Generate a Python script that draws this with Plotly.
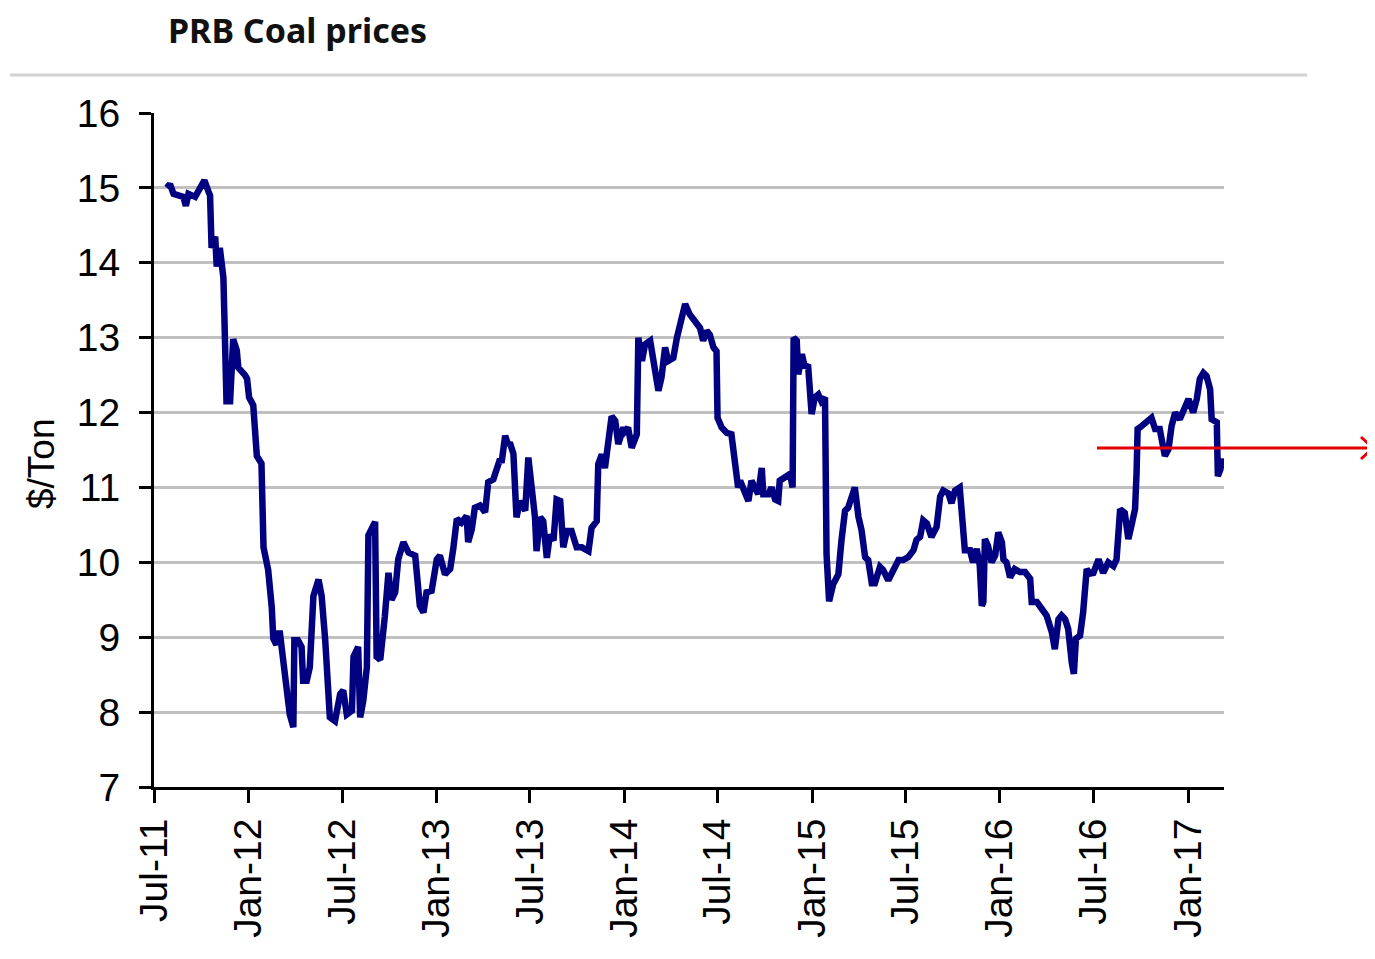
import plotly.graph_objects as go

# ---------------- data ----------------
dates = [
    "2011-07-26", "2011-08-01", "2011-08-08", "2011-08-21", "2011-08-27", "2011-09-01",
    "2011-09-06", "2011-09-19", "2011-09-28", "2011-10-07", "2011-10-15", "2011-10-18",
    "2011-10-21", "2011-10-28", "2011-10-31", "2011-11-06", "2011-11-13", "2011-11-16",
    "2011-11-19", "2011-11-26", "2011-12-02", "2011-12-09", "2011-12-12", "2011-12-25",
    "2011-12-29", "2012-01-02", "2012-01-10", "2012-01-17", "2012-01-26", "2012-01-30",
    "2012-02-08", "2012-02-15", "2012-02-18", "2012-02-24", "2012-02-27", "2012-03-02",
    "2012-03-08", "2012-03-15", "2012-03-21", "2012-03-28", "2012-03-30", "2012-04-06",
    "2012-04-13", "2012-04-16", "2012-04-23", "2012-04-29", "2012-05-06", "2012-05-16",
    "2012-05-22", "2012-05-29", "2012-06-04", "2012-06-07", "2012-06-17", "2012-06-27",
    "2012-07-03", "2012-07-10", "2012-07-20", "2012-07-23", "2012-08-01", "2012-08-05",
    "2012-08-11", "2012-08-18", "2012-08-21", "2012-08-27", "2012-09-03", "2012-09-06",
    "2012-09-13", "2012-09-22", "2012-09-29", "2012-10-05", "2012-10-12", "2012-10-18",
    "2012-10-28", "2012-11-07", "2012-11-20", "2012-11-29", "2012-12-06", "2012-12-12",
    "2012-12-22", "2013-01-01", "2013-01-07", "2013-01-17", "2013-01-27", "2013-02-02",
    "2013-02-09", "2013-02-18", "2013-02-28", "2013-03-03", "2013-03-10", "2013-03-16",
    "2013-03-26", "2013-04-05", "2013-04-11", "2013-04-21", "2013-04-28", "2013-05-04",
    "2013-05-07", "2013-05-14", "2013-05-20", "2013-05-23", "2013-05-30", "2013-06-02",
    "2013-06-05", "2013-06-12", "2013-06-22", "2013-06-28", "2013-07-05", "2013-07-08",
    "2013-07-11", "2013-07-14", "2013-07-21", "2013-07-27", "2013-08-03", "2013-08-09",
    "2013-08-16", "2013-08-22", "2013-08-29", "2013-09-04", "2013-09-11", "2013-09-20",
    "2013-09-30", "2013-10-10", "2013-10-23", "2013-10-29", "2013-11-08", "2013-11-11",
    "2013-11-18", "2013-11-24", "2013-12-01", "2013-12-07", "2013-12-14", "2013-12-20",
    "2013-12-30", "2014-01-02", "2014-01-08", "2014-01-15", "2014-01-25", "2014-01-28",
    "2014-02-04", "2014-02-10", "2014-02-20", "2014-02-26", "2014-03-08", "2014-03-14",
    "2014-03-21", "2014-03-27", "2014-04-06", "2014-04-13", "2014-04-19", "2014-04-29",
    "2014-05-08", "2014-05-18", "2014-05-28", "2014-06-03", "2014-06-10", "2014-06-16",
    "2014-06-23", "2014-06-29", "2014-07-01", "2014-07-09", "2014-07-19", "2014-07-28",
    "2014-08-04", "2014-08-10", "2014-08-14", "2014-08-23", "2014-08-30", "2014-09-05",
    "2014-09-12", "2014-09-18", "2014-09-25", "2014-09-28", "2014-10-08", "2014-10-14",
    "2014-10-21", "2014-10-27", "2014-10-30", "2014-11-09", "2014-11-19", "2014-11-24",
    "2014-11-26", "2014-12-02", "2014-12-05", "2014-12-12", "2014-12-18", "2014-12-24",
    "2014-12-31", "2015-01-06", "2015-01-13", "2015-01-19", "2015-01-26", "2015-01-29",
    "2015-02-03", "2015-02-11", "2015-02-21", "2015-02-27", "2015-03-06", "2015-03-12",
    "2015-03-19", "2015-03-25", "2015-04-01", "2015-04-07", "2015-04-14", "2015-04-20",
    "2015-04-27", "2015-05-03", "2015-05-13", "2015-05-19", "2015-05-29", "2015-06-08",
    "2015-06-18", "2015-06-27", "2015-07-07", "2015-07-17", "2015-07-23", "2015-07-30",
    "2015-08-05", "2015-08-12", "2015-08-21", "2015-08-31", "2015-09-07", "2015-09-13",
    "2015-09-23", "2015-09-29", "2015-10-06", "2015-10-15", "2015-10-25", "2015-11-04",
    "2015-11-10", "2015-11-17", "2015-11-23", "2015-11-27", "2015-11-30", "2015-12-03",
    "2015-12-09", "2015-12-16", "2015-12-23", "2015-12-29", "2016-01-05", "2016-01-08",
    "2016-01-14", "2016-01-21", "2016-01-30", "2016-02-09", "2016-02-19", "2016-02-29",
    "2016-03-03", "2016-03-13", "2016-03-22", "2016-04-01", "2016-04-11", "2016-04-17",
    "2016-04-24", "2016-04-30", "2016-05-07", "2016-05-13", "2016-05-20", "2016-05-24",
    "2016-05-28", "2016-06-05", "2016-06-11", "2016-06-18", "2016-06-24", "2016-07-01",
    "2016-07-11", "2016-07-20", "2016-07-30", "2016-08-09", "2016-08-15", "2016-08-22",
    "2016-08-31", "2016-09-07", "2016-09-13", "2016-09-20", "2016-09-23", "2016-09-25",
    "2016-10-03", "2016-10-13", "2016-10-22", "2016-10-29", "2016-11-07", "2016-11-17",
    "2016-11-24", "2016-11-30", "2016-12-07", "2016-12-16", "2016-12-26", "2017-01-02",
    "2017-01-11", "2017-01-18", "2017-01-24", "2017-01-31", "2017-02-06", "2017-02-13",
    "2017-02-16", "2017-02-26", "2017-02-28", "2017-03-05", "2017-03-08", "2017-03-11",
]

prices = [
    15.00, 15.05, 14.92, 14.90, 14.88, 14.76,
    14.92, 14.88, 14.98, 15.10, 14.95, 14.90,
    14.20, 14.35, 13.95, 14.20, 13.80, 12.50,
    12.15, 12.15, 12.98, 12.83, 12.60, 12.50,
    12.45, 12.20, 12.10, 11.42, 11.32, 10.20,
    9.90, 9.40, 8.98, 8.90, 9.05, 9.05,
    8.70, 8.33, 7.97, 7.80, 8.96, 8.96,
    8.87, 8.42, 8.42, 8.60, 9.55, 9.77,
    9.55, 8.96, 8.15, 7.93, 7.88, 8.24,
    8.29, 7.97, 8.02, 8.74, 8.87, 7.93,
    8.15, 8.60, 10.36, 10.45, 10.54, 8.74,
    8.70, 9.28, 9.86, 9.50, 9.60, 10.04,
    10.27, 10.13, 10.09, 9.42, 9.33, 9.60,
    9.62, 10.04, 10.09, 9.84, 9.91, 10.18,
    10.58, 10.53, 10.62, 10.27, 10.44, 10.73,
    10.76, 10.67, 11.07, 11.11, 11.24, 11.38,
    11.33, 11.69, 11.56, 11.60, 11.45, 10.73,
    10.60, 10.82, 10.69, 11.40, 11.00, 10.91,
    10.60, 10.15, 10.60, 10.55, 10.06, 10.37,
    10.29, 10.84, 10.82, 10.20, 10.42, 10.42,
    10.20, 10.20, 10.15, 10.46, 10.55, 11.31,
    11.44, 11.26, 11.71, 11.95, 11.89, 11.58,
    11.80, 11.75, 11.80, 11.53, 11.71, 13.00,
    12.69, 12.91, 12.96, 12.69, 12.29, 12.47,
    12.87, 12.69, 12.73, 13.00, 13.18, 13.45,
    13.31, 13.22, 13.13, 12.96, 13.09, 13.04,
    12.87, 12.82, 11.93, 11.80, 11.73, 11.71,
    11.22, 11.00, 11.09, 10.95, 10.82, 11.09,
    11.00, 10.91, 11.26, 10.91, 10.91, 11.00,
    10.84, 10.82, 11.09, 11.13, 11.18, 11.00,
    13.00, 12.96, 12.51, 12.78, 12.60, 12.64,
    11.98, 12.20, 12.24, 12.15, 12.20, 10.11,
    9.48, 9.71, 9.84, 10.29, 10.69, 10.73,
    10.86, 11.00, 10.61, 10.43, 10.07, 10.03,
    9.72, 9.72, 9.94, 9.90, 9.76, 9.90,
    10.03, 10.03, 10.07, 10.16, 10.30, 10.34,
    10.56, 10.52, 10.34, 10.47, 10.88, 10.96,
    10.92, 10.79, 10.96, 11.00, 10.16, 10.16,
    10.00, 10.18, 9.96, 9.42, 9.47, 10.31,
    10.22, 10.00, 10.09, 10.40, 10.27, 10.04,
    10.00, 9.80, 9.91, 9.87, 9.87, 9.78,
    9.47, 9.47, 9.38, 9.29, 9.07, 8.84,
    9.24, 9.29, 9.24, 9.11, 8.66, 8.51,
    8.98, 9.02, 9.33, 9.91, 9.85, 9.86,
    10.04, 9.86, 10.00, 9.95, 10.04, 10.71,
    10.66, 10.31, 10.49, 10.71, 11.20, 11.78,
    11.82, 11.89, 11.93, 11.78, 11.78, 11.42,
    11.51, 11.82, 12.00, 11.91, 12.09, 12.18,
    12.00, 12.18, 12.45, 12.53, 12.49, 12.31,
    11.91, 11.87, 11.15, 11.24, 11.38, 11.29,
]

y_ticks = [7, 8, 9, 10, 11, 12, 13, 14, 15, 16]
title_text = "PRB Coal prices"
y_title = "$/Ton"

# ---------------- layout geometry (page pixels; page body has an 8px margin) ----------------
OFF = 8
W, H = 1375 - OFF, 959 - OFF
L, R, T, B = 154 - OFF, 1224 - OFF, 113 - OFF, 787 - OFF


def px(x):
    """page pixel x -> paper x"""
    return (x - OFF - L) / (R - L)


def py(y):
    """page pixel y -> paper y"""
    return (B - (y - OFF)) / (B - T)


fig = go.Figure()
fig.add_trace(go.Scatter(
    x=dates, y=prices, mode="lines",
    line=dict(color="#000080", width=6.5),
    hoverinfo="skip", showlegend=False,
))

tick_font = dict(family="Liberation Sans, Arial, sans-serif", size=39, color="black")

fig.update_layout(
    width=W, height=H,
    margin=dict(l=L, r=W - R, t=T, b=H - B, pad=0),
    paper_bgcolor="white", plot_bgcolor="white",
    showlegend=False,
)

fig.update_xaxes(
    type="date",
    range=["2011-07-01", "2017-03-12"],
    tick0="2011-07-01", dtick="M6", tickformat="%b-%y",
    tickangle=-90,
    ticks="outside", ticklen=13, tickwidth=3, tickcolor="black",
    showline=True, linecolor="black", linewidth=3,
    showgrid=False, zeroline=False,
    tickfont=tick_font,
)

fig.update_yaxes(
    range=[7, 16], tickvals=y_ticks,
    ticks="outside", ticklen=12, tickwidth=3, tickcolor="black",
    ticklabelstandoff=11,
    showline=True, linecolor="black", linewidth=3,
    showgrid=True, gridcolor="#c0c0c0", gridwidth=2.5,
    zeroline=False,
    tickfont=tick_font,
)

annotations = [
    dict(text="<b>" + title_text + "</b>", xref="paper", yref="paper",
         x=px(166), y=py(30), xanchor="left", yanchor="middle", showarrow=False,
         font=dict(family="Noto Sans, Open Sans, sans-serif", size=34, color="#111111")),
    dict(text=y_title, xref="paper", yref="paper",
         x=px(42), y=py(464), xanchor="center", yanchor="middle", showarrow=False,
         textangle=-90,
         font=dict(family="Liberation Sans, Arial, sans-serif", size=37, color="black")),
]
fig.update_layout(annotations=annotations)

shapes = [
    # grey rule under the title
    dict(type="line", xref="paper", yref="paper",
         x0=px(10), x1=px(1307), y0=py(75), y1=py(75),
         line=dict(color="#d2d2d2", width=3)),
    # red arrow shaft
    dict(type="line", xref="paper", yref="paper",
         x0=px(1097), x1=px(1372), y0=py(448), y1=py(448),
         line=dict(color="#e60000", width=3)),
    # red arrow head (open chevron)
    dict(type="path", xref="paper", yref="paper",
         path="M {a},{b} L {c},{d} L {e},{f}".format(
             a=px(1361), b=py(437), c=px(1373), d=py(448), e=px(1361), f=py(459)),
         line=dict(color="#e60000", width=3)),
]
fig.update_layout(shapes=shapes)

fig.write_html("out.html")
